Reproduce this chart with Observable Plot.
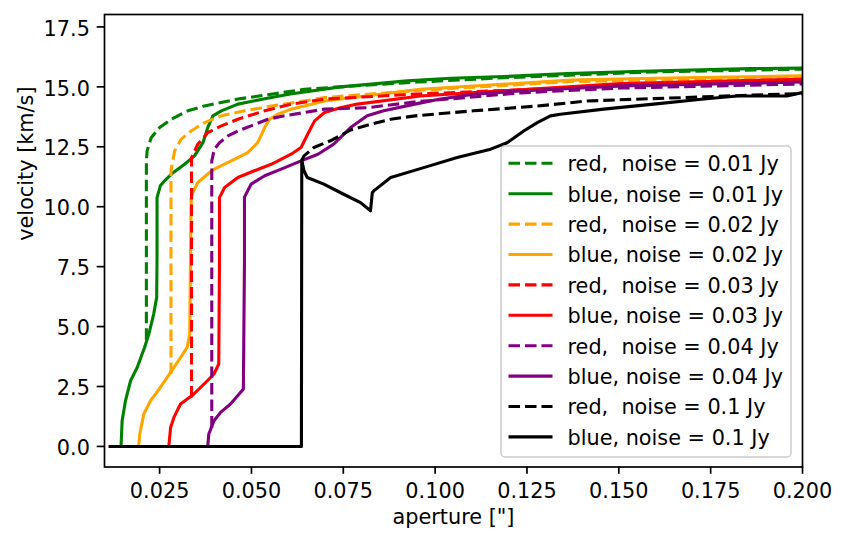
<!DOCTYPE html>
<html>
<head>
<meta charset="utf-8">
<script src="https://cdn.jsdelivr.net/npm/d3@7"></script>
<script src="https://cdn.jsdelivr.net/npm/@observablehq/plot@0.6"></script>
<style>
  body { margin: 0; background: #fff; }
  #chart { width: 846px; height: 545px; }
</style>
</head>
<body>
<div id="chart"></div>
<script>
// aperture ["], velocity [km/s]
const red001 = [[0.0214,4.45],[0.0214,11.9],[0.0216,12.33],[0.0227,12.88],[0.0250,13.3],[0.0282,13.65],[0.0327,14.0],[0.0372,14.2],[0.0463,14.49],[0.0554,14.69],[0.0644,14.9],[0.0742,15.0],[0.0951,15.2],[0.1187,15.38],[0.1586,15.62],[0.2,15.74]];
const blue001 = [[0.0116,0],[0.0145,0],[0.0148,1.07],[0.0157,1.9],[0.0171,2.74],[0.0189,3.29],[0.0209,4.13],[0.0221,4.7],[0.0234,5.53],[0.0242,6.21],[0.0243,7.83],[0.0243,10.38],[0.0252,10.87],[0.0263,11.07],[0.0282,11.36],[0.0318,11.77],[0.0345,12.12],[0.0368,12.67],[0.0381,13.3],[0.0395,13.79],[0.0418,14.0],[0.0463,14.28],[0.0536,14.5],[0.0606,14.7],[0.0742,15.0],[0.0924,15.25],[0.1042,15.36],[0.1187,15.43],[0.1359,15.55],[0.1586,15.66],[0.1858,15.76],[0.2,15.78]];
const red002 = [[0.0281,3.02],[0.0281,11.5],[0.0291,12.33],[0.0309,12.82],[0.0336,13.16],[0.0372,13.51],[0.0418,13.79],[0.0481,14.0],[0.0554,14.2],[0.0644,14.41],[0.0699,14.55],[0.0951,14.85],[0.1369,15.22],[0.2,15.4]];
const blue002 = [[0.0116,0],[0.0193,0],[0.0196,0.52],[0.0207,1.35],[0.0225,1.9],[0.0252,2.46],[0.0280,3.09],[0.0307,3.71],[0.0325,4.13],[0.0332,4.69],[0.0334,7.74],[0.0336,10.3],[0.0338,10.52],[0.0354,11.01],[0.0381,11.36],[0.0399,11.57],[0.0445,11.91],[0.0490,12.26],[0.0517,12.67],[0.0536,13.3],[0.0549,13.65],[0.0572,13.86],[0.0608,14.07],[0.0699,14.41],[0.0960,14.9],[0.1369,15.28],[0.1594,15.36],[0.2,15.46]];
const red003 = [[0.0337,2.04],[0.0337,12.05],[0.0354,12.61],[0.0381,13.09],[0.0418,13.37],[0.0463,13.65],[0.0536,14.0],[0.0608,14.28],[0.0699,14.49],[0.0951,14.7],[0.1505,15.05],[0.2,15.25]];
const blue003 = [[0.0116,0],[0.0275,0],[0.0280,0.79],[0.0289,1.21],[0.0307,1.77],[0.0343,2.18],[0.0380,2.74],[0.0398,3.02],[0.0411,3.44],[0.0413,7.74],[0.0413,10.38],[0.0427,10.8],[0.0463,11.22],[0.0508,11.5],[0.0554,11.77],[0.0608,12.19],[0.0635,12.47],[0.0653,13.02],[0.0672,13.58],[0.0699,13.93],[0.0742,14.13],[0.0788,14.28],[0.0960,14.62],[0.1505,15.14],[0.1730,15.22],[0.2,15.32]];
const red004 = [[0.0392,0.79],[0.0392,11.91],[0.0399,12.4],[0.0413,12.67],[0.0436,12.95],[0.0463,13.16],[0.0499,13.37],[0.0545,13.65],[0.0590,13.79],[0.0644,13.93],[0.0699,14.07],[0.0815,14.13],[0.0951,14.38],[0.1232,14.75],[0.1505,14.95],[0.2,15.12]];
const blue004 = [[0.0116,0],[0.0381,0],[0.0384,0.52],[0.0398,1.07],[0.0416,1.42],[0.0443,1.77],[0.0466,2.18],[0.0478,2.39],[0.0481,7.74],[0.0481,10.4],[0.0499,10.94],[0.0536,11.29],[0.0581,11.57],[0.0635,11.91],[0.0681,12.19],[0.0724,12.61],[0.0770,13.3],[0.0815,13.79],[0.0860,14.0],[0.0951,14.3],[0.1015,14.49],[0.1105,14.69],[0.1232,14.83],[0.1505,15.04],[0.2,15.2]];
const red01 = [[0.0637,11.94],[0.0643,12.12],[0.0670,12.47],[0.0715,12.75],[0.0770,13.2],[0.0815,13.4],[0.0879,13.65],[0.0951,13.8],[0.1105,14.0],[0.1278,14.2],[0.1414,14.41],[0.1595,14.51],[0.1731,14.58],[0.1867,14.66],[0.2,14.72]];
const blue01 = [[0.0116,0],[0.0636,0],[0.0637,11.94],[0.0643,11.5],[0.0652,11.22],[0.0697,10.94],[0.0751,10.52],[0.0797,10.17],[0.0824,9.83],[0.0829,10.59],[0.0833,10.66],[0.0879,11.22],[0.0969,11.63],[0.1060,12.05],[0.1151,12.4],[0.1196,12.67],[0.1241,13.16],[0.1278,13.51],[0.1314,13.79],[0.1341,13.86],[0.1459,14.07],[0.1595,14.28],[0.1731,14.49],[0.1822,14.62],[0.1958,14.62],[0.2,14.76]];

const seriesData = [red001, blue001, red002, blue002, red003, blue003, red004, blue004, red01, blue01];
const seriesLabels = [
  "red,  noise = 0.01 Jy", "blue, noise = 0.01 Jy",
  "red,  noise = 0.02 Jy", "blue, noise = 0.02 Jy",
  "red,  noise = 0.03 Jy", "blue, noise = 0.03 Jy",
  "red,  noise = 0.04 Jy", "blue, noise = 0.04 Jy",
  "red,  noise = 0.1 Jy",  "blue, noise = 0.1 Jy"
];
const seriesColors = ["green","green","orange","orange","red","red","purple","purple","black","black"];
const seriesDashed = [true,false,true,false,true,false,true,false,true,false];

const xTicks = [0.025, 0.05, 0.075, 0.1, 0.125, 0.15, 0.175, 0.2];
const yTicks = [0, 2.5, 5, 7.5, 10, 12.5, 15, 17.5];
const xLabel = 'aperture ["]';
const yLabel = "velocity [km/s]";

const LW = 3.1;
const DASH = "11.5,5";

const lineMarks = seriesData.map((pts, i) =>
  Plot.line(pts, {
    x: d => d[0], y: d => d[1],
    stroke: seriesColors[i],
    strokeWidth: LW,
    strokeDasharray: seriesDashed[i] ? DASH : null,
    strokeLinejoin: "round",
    strokeLinecap: seriesDashed[i] ? "butt" : "square",
    clip: true
  })
);

const chart = Plot.plot({
  width: 846,
  height: 545,
  marginLeft: 104,
  marginRight: 44,
  marginTop: 14,
  marginBottom: 78.5,
  style: { fontFamily: "DejaVu Sans", fontSize: "20.8px", color: "black", background: "white", overflow: "visible" },
  x: { domain: [0.01, 0.2] },
  y: { domain: [-0.858, 18.018] },
  marks: [
    ...lineMarks,
    Plot.frame({ stroke: "black", strokeWidth: 1.7 }),
    Plot.axisX({ ticks: xTicks, tickSize: 7.3, tickPadding: 9, strokeWidth: 1.7, tickFormat: d => d.toFixed(3), label: null }),
    Plot.axisY({ ticks: yTicks, tickSize: 7.3, strokeWidth: 1.7, tickFormat: () => "", label: null }),
    Plot.axisY({ ticks: yTicks, tickSize: 0, tickPadding: 14.6, dy: 2, tickFormat: d => d.toFixed(1), label: null }),
    Plot.text([yLabel], { frameAnchor: "left", dx: -78, rotate: -90, text: d => d, fill: "black" }),
    Plot.text([xLabel], { frameAnchor: "bottom", dy: 57, text: d => d, fill: "black" })
  ]
});

document.getElementById("chart").appendChild(chart);

// Legend (matplotlib style, upper-right inside axes)
const svg = d3.select(chart);
const lg = svg.append("g").attr("class", "legend").attr("text-anchor", "start");
const rowY0 = 163.3, rowStep = 30.4;
lg.append("rect")
  .attr("x", 501).attr("y", 146).attr("width", 290).attr("height", 311)
  .attr("rx", 4).attr("fill", "white").attr("fill-opacity", 0.8)
  .attr("stroke", "#cccccc").attr("stroke-width", 1.5);
seriesLabels.forEach((lab, i) => {
  const y = rowY0 + i * rowStep;
  lg.append("line")
    .attr("x1", 508.5).attr("x2", 552.5).attr("y1", y).attr("y2", y)
    .attr("stroke", seriesColors[i]).attr("stroke-width", LW)
    .attr("stroke-dasharray", seriesDashed[i] ? DASH : null);
  lg.append("text")
    .attr("x", 567.5).attr("y", y + 7.8)
    .attr("fill", "black")
    .attr("text-anchor", "start")
    .style("white-space", "pre")
    .attr("font-family", "DejaVu Sans").attr("font-size", "20.8px")
    .text(lab);
});
</script>
</body>
</html>
